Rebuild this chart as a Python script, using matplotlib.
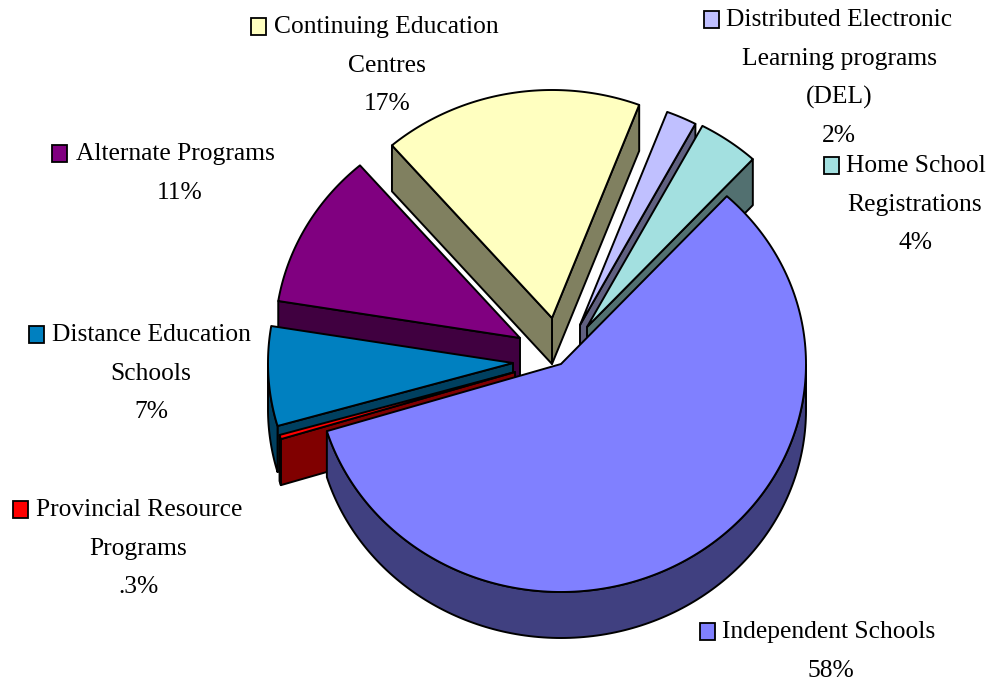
import numpy as np
import matplotlib
matplotlib.use('Agg')
import matplotlib.pyplot as plt
from matplotlib.patches import Polygon, Rectangle

# slices, going round from the edge of the big slice
categories = ['Home School\nRegistrations', 'Distributed Electronic\nLearning programs\n(DEL)',
              'Continuing Education\nCentres', 'Alternate Programs', 'Distance Education\nSchools',
              'Provincial Resource\nPrograms', 'Independent Schools']
values = [4, 2, 17, 11, 7, 0.3, 58]
pct_labels = ['4%', '2%', '17%', '11%', '7%', '.3%', '58%']

top_colors = ['#A3E0E0', '#C0C0FF', '#FFFFC0', '#800080', '#0080C0', '#FF0000', '#8080FF']
side_colors = ['#527070', '#606080', '#808060', '#400040', '#004060', '#800000', '#404080']

# layout, all in pixels of the picture
cx, cy = 545, 350
explode_x = [42, 35, 7, -25, -32, -30, 16]
explode_y = [-23, -25, -32, -12, 13, 22, 14]
draw_order = [2, 1, 0, 3, 4, 5, 6]
rx, ry = 245, 228
depth = 46
start_angle = 47.4

# left edge of the key, left edge of first line, centre of other lines, baseline of first line
key_x = [824, 704, 251, 52, 29, 13, 700]
text_x = [846, 726, 274, 76, 52, 36, 722]
line_x = [915, 839, 387, 180, 151, 138, 831]
line_y = [172, 26, 33, 160, 341, 516, 638]
line_step = 38.7

plt.rcParams['font.family'] = ['Liberation Serif', 'DejaVu Serif']
fig = plt.figure(figsize=(9.88, 6.81), dpi=100)
ax = fig.add_axes([0, 0, 1, 1])
ax.set_xlim(0, 988)
ax.set_ylim(681, 0)
ax.axis('off')

angles = start_angle + np.cumsum([0] + values) / sum(values) * 360
lw = 1.4

for i in draw_order:
    x0 = cx + explode_x[i]
    y0 = cy + explode_y[i]
    t = np.deg2rad(np.linspace(angles[i], angles[i + 1], 200))
    ax_x = x0 + rx * np.cos(t)
    ax_y = y0 - ry * np.sin(t)

    # cut faces, only those turned towards the viewer
    for k, sign in ((0, 1), (-1, -1)):
        if sign * np.cos(t[k]) > 0:
            face = [(x0, y0), (ax_x[k], ax_y[k]), (ax_x[k], ax_y[k] + depth), (x0, y0 + depth)]
            ax.add_patch(Polygon(face, closed=True, fc=side_colors[i], ec='black', lw=lw, joinstyle='round'))

    # outer rim, only the front part shows
    front = np.sin(t) < 0
    if front.sum() > 1:
        rim = list(zip(ax_x[front], ax_y[front])) + list(zip(ax_x[front][::-1], ax_y[front][::-1] + depth))
        ax.add_patch(Polygon(rim, closed=True, fc=side_colors[i], ec='black', lw=lw, joinstyle='round'))

    top = [(x0, y0)] + list(zip(ax_x, ax_y))
    ax.add_patch(Polygon(top, closed=True, fc=top_colors[i], ec='black', lw=lw, joinstyle='round'))

for i in range(len(values)):
    lines = categories[i].split('\n') + [pct_labels[i]]
    y = line_y[i]
    ax.add_patch(Rectangle((key_x[i], y - 15), 15, 17, fc=top_colors[i], ec='black', lw=1.3))
    ax.text(text_x[i], y, lines[0], fontsize=18.4, ha='left', va='baseline', color='black')
    for j, s in enumerate(lines[1:]):
        ax.text(line_x[i], y + (j + 1) * line_step, s, fontsize=18.4, ha='center', va='baseline', color='black')

fig.savefig('out.png', dpi=100)
